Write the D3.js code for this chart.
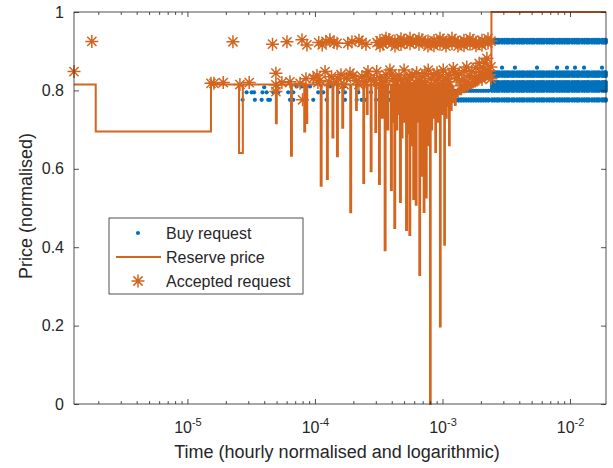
<!DOCTYPE html>
<html>
<head>
<meta charset="utf-8">
<script src="https://cdn.jsdelivr.net/npm/d3@7"></script>
<style>
  body { margin: 0; background: #fff; }
  text { font-family: "Liberation Sans", Arial, Helvetica, sans-serif; fill: #262626; }
</style>
</head>
<body>
<svg id="chart" width="613" height="468"></svg>
<script>
// ---- data (time is hourly normalised, price normalised) ----
const xTicks = [1e-5, 1e-4, 1e-3, 1e-2];
const yTicks = [0, 0.2, 0.4, 0.6, 0.8, 1];
const timeDomain = [1.29e-6, 1.915e-2];

// buy requests scattered before the reserve jumps
const buyRequests = [
  [2.71e-5, 0.776], [2.91e-5, 0.795], [3.19e-5, 0.795], [3.33e-5, 0.795], [3.38e-5, 0.776],
  [3.82e-5, 0.776], [3.88e-5, 0.795], [4.0e-5, 0.808], [4.18e-5, 0.795], [4.3e-5, 0.776],
  [4.44e-5, 0.776], [4.71e-5, 0.795], [5.15e-5, 0.795], [6.17e-5, 0.795], [6.37e-5, 0.776],
  [6.76e-5, 0.795], [6.76e-5, 0.776], [7.18e-5, 0.81], [7.87e-5, 0.81], [9.14e-5, 0.81],
  [9.70e-5, 0.776], [1.061e-4, 0.795], [1.162e-4, 0.795], [1.235e-4, 0.776], [1.311e-4, 0.81],
  [1.523e-4, 0.795], [1.70e-4, 0.81], [1.719e-4, 0.795], [1.719e-4, 0.776], [2.123e-4, 0.776],
  [2.186e-4, 0.795], [2.324e-4, 0.776], [2.512e-4, 0.776], [2.749e-4, 0.795], [3.009e-4, 0.776],
  [3.294e-4, 0.795], [3.605e-4, 0.776], [3.80e-4, 0.776], [3.945e-4, 0.795], [4.05e-4, 0.776],
  [4.318e-4, 0.776], [4.55e-4, 0.776], [4.726e-4, 0.795], [4.95e-4, 0.776], [5.172e-4, 0.776],
  [5.45e-4, 0.776], [5.66e-4, 0.795], [5.95e-4, 0.776], [6.195e-4, 0.776], [6.5e-4, 0.776],
  [6.78e-4, 0.795], [7.0e-4, 0.776], [7.42e-4, 0.776], [7.8e-4, 0.776], [8.12e-4, 0.795],
  [8.5e-4, 0.776], [8.89e-4, 0.776], [8.89e-4, 0.795], [9.3e-4, 0.776]
];

// dense request bands: times x price levels
const lateTimes = [9.73e-4, 1.018e-3, 1.065e-3, 1.114e-3, 1.166e-3, 1.220e-3, 1.276e-3, 1.335e-3,
  1.397e-3, 1.461e-3, 1.529e-3, 1.600e-3, 1.673e-3, 1.751e-3, 1.831e-3, 1.916e-3, 2.004e-3,
  2.097e-3, 2.194e-3, 2.295e-3];
const lateLevels = [0.799, 0.777, 0.774];

const finalTimes = [2.444e-3, 2.557e-3, 2.676e-3, 2.774e-3, 2.929e-3, 3.064e-3, 3.206e-3, 3.324e-3,
  3.509e-3, 3.638e-3, 3.841e-3, 4.018e-3, 4.204e-3, 4.359e-3, 4.601e-3, 4.814e-3, 5.035e-3,
  5.220e-3, 5.511e-3, 5.765e-3, 6.032e-3, 6.253e-3, 6.601e-3, 6.906e-3, 7.225e-3, 7.490e-3,
  7.907e-3, 8.274e-3, 8.654e-3, 9.055e-3, 9.473e-3, 9.82e-3, 1.037e-2, 1.085e-2, 1.135e-2,
  1.176e-2, 1.242e-2, 1.299e-2, 1.359e-2, 1.409e-2, 1.488e-2, 1.557e-2, 1.628e-2, 1.688e-2,
  1.782e-2, 1.848e-2, 1.91e-2];
const finalLevels = [0.929, 0.925, 0.922, 0.846, 0.841, 0.837,
  0.821, 0.815, 0.81, 0.804, 0.799, 0.777, 0.774];

const sparseTimes = [2.93e-3, 3.70e-3, 5.51e-3, 7.91e-3, 9.47e-3, 1.094e-2, 1.288e-2, 1.782e-2];
const sparseLevel = 0.858;

// reserve price (step series with short dips)
const reservePrice = [
  [1.29e-6, 0.815], [1.91e-6, 0.695], [1.53e-5, 0.815],
  [2.54e-5, 0.64], [2.72e-5, 0.815], [4.94e-5, 0.716], [5.02e-5, 0.815],
  [6.49e-5, 0.633], [6.60e-5, 0.815], [8.24e-5, 0.695], [8.38e-5, 0.815],
  [8.55e-5, 0.717], [8.70e-5, 0.815], [1.109e-4, 0.557], [1.128e-4, 0.815],
  [1.241e-4, 0.574], [1.262e-4, 0.815], [1.371e-4, 0.68], [1.395e-4, 0.815],
  [1.488e-4, 0.632], [1.513e-4, 0.815], [1.637e-4, 0.705], [1.665e-4, 0.815],
  [1.891e-4, 0.489], [1.923e-4, 0.815], [2.10e-4, 0.75], [2.13e-4, 0.815],
  [2.393e-4, 0.564], [2.43e-4, 0.815], [2.55e-4, 0.74], [2.59e-4, 0.815],
  [2.735e-4, 0.594], [2.78e-4, 0.815], [2.972e-4, 0.694], [3.02e-4, 0.815],
  [3.177e-4, 0.561], [3.23e-4, 0.815], [3.35e-4, 0.73], [3.40e-4, 0.815],
  [3.52e-4, 0.392], [3.58e-4, 0.815], [3.70e-4, 0.70], [3.76e-4, 0.815],
  [3.94e-4, 0.546], [4.01e-4, 0.815], [4.08e-4, 0.72], [4.13e-4, 0.815],
  [4.19e-4, 0.449], [4.26e-4, 0.815], [4.35e-4, 0.70], [4.42e-4, 0.815],
  [4.50e-4, 0.74], [4.55e-4, 0.815], [4.64e-4, 0.515], [4.72e-4, 0.815],
  [4.80e-4, 0.68], [4.86e-4, 0.815], [4.95e-4, 0.72], [5.02e-4, 0.815],
  [5.18e-4, 0.444], [5.27e-4, 0.815], [5.35e-4, 0.69], [5.42e-4, 0.815],
  [5.50e-4, 0.431], [5.59e-4, 0.815], [5.66e-4, 0.66], [5.73e-4, 0.815],
  [5.90e-4, 0.523], [5.98e-4, 0.815], [6.05e-4, 0.70], [6.12e-4, 0.815],
  [6.17e-4, 0.508], [6.27e-4, 0.815], [6.35e-4, 0.72], [6.45e-4, 0.815],
  [6.58e-4, 0.329], [6.68e-4, 0.815], [6.76e-4, 0.74], [6.84e-4, 0.815],
  [6.90e-4, 0.582], [6.98e-4, 0.815], [7.04e-4, 0.71], [7.09e-4, 0.815],
  [7.12e-4, 0.49], [7.22e-4, 0.815], [7.30e-4, 0.68], [7.36e-4, 0.815],
  [7.42e-4, 0.527], [7.52e-4, 0.815], [7.60e-4, 0.71], [7.70e-4, 0.815],
  [7.80e-4, 0.66], [7.90e-4, 0.815], [7.98e-4, 0.0], [8.08e-4, 0.815],
  [8.20e-4, 0.70], [8.30e-4, 0.815], [8.45e-4, 0.73], [8.55e-4, 0.815],
  [8.78e-4, 0.643], [8.90e-4, 0.815], [9.10e-4, 0.72], [9.22e-4, 0.815],
  [9.35e-4, 0.76], [9.45e-4, 0.815], [9.55e-4, 0.198], [9.68e-4, 0.815],
  [9.85e-4, 0.74], [9.97e-4, 0.815], [1.032e-3, 0.406], [1.045e-3, 0.815],
  [1.07e-3, 0.73], [1.08e-3, 0.815], [1.10e-3, 0.76], [1.11e-3, 0.815],
  [1.125e-3, 0.66], [1.14e-3, 0.815], [1.17e-3, 0.75], [1.18e-3, 0.81],
  [1.22e-3, 0.77], [1.235e-3, 0.80], [1.253e-3, 0.763], [1.27e-3, 0.80],
  [1.30e-3, 0.785], [1.32e-3, 0.805], [1.37e-3, 0.79], [1.40e-3, 0.81],
  [1.45e-3, 0.795], [1.49e-3, 0.815], [1.54e-3, 0.80], [1.58e-3, 0.82],
  [1.64e-3, 0.805], [1.69e-3, 0.825], [1.75e-3, 0.81], [1.80e-3, 0.83],
  [1.86e-3, 0.815], [1.92e-3, 0.835], [1.97e-3, 0.82], [2.03e-3, 0.84],
  [2.10e-3, 0.825], [2.17e-3, 0.845], [2.24e-3, 0.83], [2.30e-3, 0.85],
  [2.36e-3, 0.86], [2.42e-3, 1.0], [1.915e-2, 1.0]
];

// accepted requests
const acceptedRequests = [
  [1.29e-6, 0.848], [1.78e-6, 0.925],
  [1.53e-5, 0.818], [1.614e-5, 0.818], [1.909e-5, 0.82], [2.275e-5, 0.924], [2.58e-5, 0.815], [3.05e-5, 0.82],
  [4.65e-5, 0.918], [4.94e-5, 0.844], [4.94e-5, 0.814], [4.94e-5, 0.797], [5.5e-5, 0.82],
  [6.03e-5, 0.924], [6.37e-5, 0.822], [7.65e-5, 0.818], [7.91e-5, 0.929], [8.0e-5, 0.776],
  [8.5e-5, 0.83], [8.65e-5, 0.916], [9.7e-5, 0.831],
  [1.055e-4, 0.82], [1.07e-4, 0.922], [1.14e-4, 0.916], [1.2e-4, 0.848], [1.22e-4, 0.925],
  [1.31e-4, 0.929], [1.35e-4, 0.835], [1.41e-4, 0.922], [1.48e-4, 0.818], [1.49e-4, 0.92],
  [1.6e-4, 0.84], [1.77e-4, 0.831], [1.81e-4, 0.92], [1.882e-4, 0.844], [1.95e-4, 0.924],
  [2.097e-4, 0.825], [2.214e-4, 0.928], [2.337e-4, 0.922], [2.337e-4, 0.835], [2.51e-4, 0.918],
  [2.54e-4, 0.839], [2.749e-4, 0.828],
  // upper cluster
  [3.064e-4, 0.922], [3.235e-4, 0.927], [3.415e-4, 0.918], [3.605e-4, 0.925], [3.806e-4, 0.93],
  [4.018e-4, 0.92], [4.242e-4, 0.926], [4.477e-4, 0.922], [4.726e-4, 0.917], [4.989e-4, 0.928],
  [5.268e-4, 0.923], [5.561e-4, 0.919], [5.870e-4, 0.927], [6.197e-4, 0.924], [6.542e-4, 0.918],
  [6.906e-4, 0.929], [7.290e-4, 0.922], [7.697e-4, 0.926], [8.125e-4, 0.92], [8.576e-4, 0.927],
  [9.056e-4, 0.923], [9.559e-4, 0.918], [1.009e-3, 0.928], [1.065e-3, 0.922], [1.125e-3, 0.926],
  [1.187e-3, 0.919], [1.253e-3, 0.927], [1.323e-3, 0.923], [1.397e-3, 0.92], [1.474e-3, 0.928],
  [1.557e-3, 0.924], [1.643e-3, 0.918], [1.735e-3, 0.927], [1.831e-3, 0.923], [1.933e-3, 0.92],
  [2.041e-3, 0.928], [2.154e-3, 0.924], [2.275e-3, 0.921], [2.401e-3, 0.926],
  [3.235e-4, 0.914], [3.605e-4, 0.933], [4.242e-4, 0.913], [4.726e-4, 0.932], [5.561e-4, 0.933],
  [6.542e-4, 0.932], [7.697e-4, 0.913], [8.576e-4, 0.914], [9.559e-4, 0.933], [1.065e-3, 0.913],
  [1.187e-3, 0.933], [1.323e-3, 0.913], [1.474e-3, 0.914], [1.643e-3, 0.932], [1.831e-3, 0.914],
  [2.041e-3, 0.915], [2.275e-3, 0.932],
  // lower cluster
  [3.05e-4, 0.848], [3.235e-4, 0.832], [3.415e-4, 0.82], [3.605e-4, 0.84], [3.87e-4, 0.852],
  [4.09e-4, 0.83], [4.32e-4, 0.822], [4.56e-4, 0.838], [5.0e-4, 0.852], [5.17e-4, 0.83],
  [5.45e-4, 0.82], [5.77e-4, 0.84], [6.27e-4, 0.845], [6.54e-4, 0.826], [6.9e-4, 0.835],
  [7.29e-4, 0.82], [7.73e-4, 0.852], [8.125e-4, 0.83], [8.576e-4, 0.84], [9.056e-4, 0.825],
  [9.56e-4, 0.835], [1.014e-3, 0.852], [1.065e-3, 0.83], [1.125e-3, 0.84], [1.216e-3, 0.856],
  [1.28e-3, 0.83], [1.35e-3, 0.842], [1.42e-3, 0.826], [1.55e-3, 0.86], [1.615e-3, 0.838],
  [1.70e-3, 0.848], [1.80e-3, 0.832], [1.94e-3, 0.869], [2.0e-3, 0.845], [2.11e-3, 0.855],
  [2.23e-3, 0.882], [2.32e-3, 0.84], [2.40e-3, 0.86],
  [1.037e-4, 0.838], [1.095e-4, 0.825], [1.288e-4, 0.822], [1.515e-4, 0.83], [1.688e-4, 0.815],
  [1.986e-4, 0.838], [2.214e-4, 0.815], [2.467e-4, 0.822], [2.604e-4, 0.848], [2.902e-4, 0.825],
  [3.235e-4, 0.812], [3.605e-4, 0.825], [4.018e-4, 0.842], [4.477e-4, 0.81], [4.726e-4, 0.828],
  [4.989e-4, 0.815], [5.561e-4, 0.833], [6.197e-4, 0.818], [6.906e-4, 0.812], [7.29e-4, 0.843],
  [8.125e-4, 0.815], [9.056e-4, 0.845], [1.009e-3, 0.818], [1.125e-3, 0.822], [1.253e-3, 0.845],
  [1.397e-3, 0.812], [1.474e-3, 0.85], [1.557e-3, 0.822], [1.735e-3, 0.822], [1.831e-3, 0.858],
  [1.933e-3, 0.835], [2.041e-3, 0.828], [2.154e-3, 0.87], [2.275e-3, 0.85], [2.401e-3, 0.83]
];

const legendLabels = ["Buy request", "Reserve price", "Accepted request"];

// ---- chart ----
const blue = "#0072BD", orange = "#D4651F", ink = "#262626";
const plot = { left: 74, right: 606, top: 12, bottom: 404 };
const svg = d3.select("#chart");

const x = d3.scaleLog().domain(timeDomain).range([plot.left, plot.right]);
const y = d3.scaleLinear().domain([0, 1]).range([plot.bottom, plot.top]);

// all buy requests in one list
const bandDots = [];
lateTimes.forEach(t => lateLevels.forEach(p => bandDots.push([t, p])));
finalTimes.forEach(t => finalLevels.forEach(p => bandDots.push([t, p])));
sparseTimes.forEach(t => bandDots.push([t, sparseLevel]));
const allBuys = buyRequests.concat(bandDots);

svg.append("g").selectAll("circle")
  .data(allBuys)
  .join("circle")
  .attr("cx", d => x(d[0]))
  .attr("cy", d => y(d[1]))
  .attr("r", 2.1)
  .attr("fill", blue);

const line = d3.line()
  .x(d => x(d[0]))
  .y(d => y(d[1]))
  .curve(d3.curveStepAfter);

svg.append("path")
  .datum(reservePrice)
  .attr("d", line)
  .attr("fill", "none")
  .attr("stroke", orange)
  .attr("stroke-width", 2);

// 8-armed asterisk like matlab's '*'
const asterisk = {
  draw(ctx, size) {
    const r = Math.sqrt(size) / 2, d = r * Math.SQRT1_2;
    ctx.moveTo(-r, 0); ctx.lineTo(r, 0);
    ctx.moveTo(0, -r); ctx.lineTo(0, r);
    ctx.moveTo(-d, -d); ctx.lineTo(d, d);
    ctx.moveTo(-d, d); ctx.lineTo(d, -d);
  }
};
const star = d3.symbol().type(asterisk).size(169);

svg.append("g").selectAll("path")
  .data(acceptedRequests)
  .join("path")
  .attr("transform", d => `translate(${x(d[0])},${y(d[1])})`)
  .attr("d", star)
  .attr("fill", "none")
  .attr("stroke", orange)
  .attr("stroke-width", 1.5);

// axes
const minorTicks = x.ticks().filter(d => Math.abs(Math.log10(d) - Math.round(Math.log10(d))) > 1e-6);

function styleAxis(g) {
  g.attr("color", ink).attr("font-family", null).attr("font-size", null);
  g.select(".domain").remove();
  g.selectAll(".tick line").attr("stroke-width", 0.8);
}

svg.append("g")
  .attr("transform", `translate(0,${plot.bottom})`)
  .call(d3.axisBottom(x).tickValues(xTicks).tickSizeInner(-5).tickSizeOuter(0).tickFormat(() => ""))
  .call(styleAxis)
  .call(g => g.selectAll(".tick text").each(function (d) {
    const t = d3.select(this).attr("y", 29).attr("dy", null).style("font-size", "16px");
    t.append("tspan").text("10");
    t.append("tspan").attr("dy", -7).style("font-size", "11px").text(Math.round(Math.log10(d)));
  }));

svg.append("g")
  .attr("transform", `translate(0,${plot.bottom})`)
  .call(d3.axisBottom(x).tickValues(minorTicks).tickSizeInner(-3).tickSizeOuter(0).tickFormat(""))
  .call(styleAxis);

svg.append("g")
  .attr("transform", `translate(0,${plot.top})`)
  .call(d3.axisTop(x).tickValues(xTicks).tickSizeInner(-5).tickSizeOuter(0).tickFormat(""))
  .call(styleAxis);

svg.append("g")
  .attr("transform", `translate(0,${plot.top})`)
  .call(d3.axisTop(x).tickValues(minorTicks).tickSizeInner(-3).tickSizeOuter(0).tickFormat(""))
  .call(styleAxis);

svg.append("g")
  .attr("transform", `translate(${plot.left},0)`)
  .call(d3.axisLeft(y).tickValues(yTicks).tickSizeInner(-5).tickSizeOuter(0).tickPadding(10).tickFormat(d => d))
  .call(styleAxis)
  .call(g => g.selectAll(".tick text").style("font-size", "16px"));

svg.append("g")
  .attr("transform", `translate(${plot.right},0)`)
  .call(d3.axisRight(y).tickValues(yTicks).tickSizeInner(-5).tickSizeOuter(0).tickFormat(""))
  .call(styleAxis);

svg.append("rect")
  .attr("x", plot.left).attr("y", plot.top)
  .attr("width", plot.right - plot.left).attr("height", plot.bottom - plot.top)
  .attr("fill", "none").attr("stroke", ink).attr("stroke-width", 0.8);

// axis labels
svg.append("text")
  .attr("x", 337).attr("y", 458)
  .attr("text-anchor", "middle")
  .style("font-size", "18px")
  .text("Time (hourly normalised and logarithmic)");

svg.append("text")
  .attr("transform", `translate(32,${(plot.top + plot.bottom) / 2 - 2}) rotate(-90)`)
  .attr("text-anchor", "middle")
  .style("font-size", "18px")
  .text("Price (normalised)");

// legend
const legend = svg.append("g").attr("transform", "translate(109,218)");
legend.append("rect")
  .attr("width", 194).attr("height", 76)
  .attr("fill", "#fff").attr("stroke", ink).attr("stroke-width", 0.8);

const rowY = [15, 39, 63];
legend.append("circle").attr("cx", 29).attr("cy", rowY[0]).attr("r", 2.1).attr("fill", blue);
legend.append("line")
  .attr("x1", 7).attr("x2", 52).attr("y1", rowY[1]).attr("y2", rowY[1])
  .attr("stroke", orange).attr("stroke-width", 2);
legend.append("path")
  .attr("transform", `translate(29,${rowY[2]})`)
  .attr("d", star)
  .attr("fill", "none").attr("stroke", orange).attr("stroke-width", 1.5);

legend.selectAll("text.lab")
  .data(legendLabels)
  .join("text")
  .attr("class", "lab")
  .attr("x", 57)
  .attr("y", (d, i) => rowY[i])
  .attr("dy", "0.35em")
  .style("font-size", "16px")
  .text(d => d);
</script>
</body>
</html>
